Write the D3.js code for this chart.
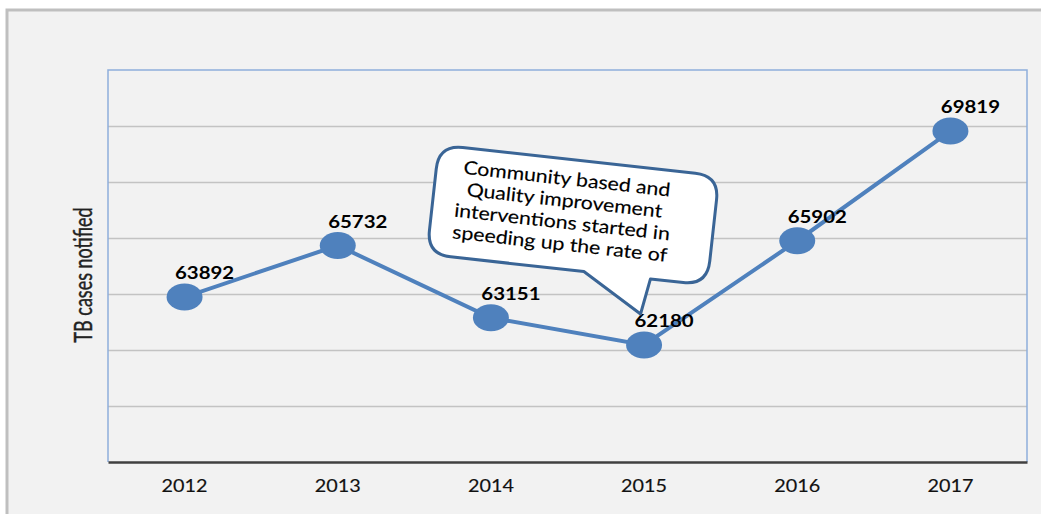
<!DOCTYPE html>
<html>
<head>
<meta charset="utf-8">
<script src="https://cdn.jsdelivr.net/npm/d3@7"></script>
<style>
  html, body { margin: 0; padding: 0; background: #ffffff; }
  svg { display: block; }
</style>
</head>
<body>
<svg id="chart" width="1041" height="514"></svg>
<script>
// Notified TB cases per year
const years = ["2012", "2013", "2014", "2015", "2016", "2017"];
const cases = [63892, 65732, 63151, 62180, 65902, 69819];
const yDomain = [58000, 72000];
const gridStep = 2000;
const axisTitle = "TB cases notified";
const calloutLines = [
  "Community based and",
  "Quality improvement",
  "interventions started in",
  "speeding up the rate of"
];

const W = 1041, H = 514;
const plot = { left: 108, top: 70, right: 1027, bottom: 462 };
const stretch = 1.2; // wide glyphs, as in the slide export
const font = "Lato, 'Open Sans', sans-serif";

const svg = d3.select("#chart");

// slide background with grey frame on the left and top
svg.append("rect").attr("x", 7).attr("y", 9).attr("width", W - 7).attr("height", H - 9)
  .attr("fill", "#f2f2f2");
svg.append("path")
  .attr("d", `M7,${H} L7,10 L${W},10`)
  .attr("fill", "none").attr("stroke", "#bfbfbf").attr("stroke-width", 3);

const x = d3.scaleBand().domain(years).range([plot.left, plot.right]).padding(0);
const y = d3.scaleLinear().domain(yDomain).range([plot.bottom, plot.top]);

// horizontal gridlines
const gridVals = d3.range(yDomain[0] + gridStep, yDomain[1], gridStep);
svg.append("g")
  .attr("transform", `translate(${plot.left},0)`)
  .call(d3.axisLeft(y).tickValues(gridVals).tickSize(-(plot.right - plot.left)).tickFormat(""))
  .call(g => g.select(".domain").remove())
  .call(g => g.selectAll(".tick line").attr("stroke", "#c3c3c3").attr("stroke-width", 1.5));

// plot area border: light blue left/top/right
svg.append("path")
  .attr("d", `M${plot.left},${plot.bottom} L${plot.left},${plot.top} L${plot.right},${plot.top} L${plot.right},${plot.bottom}`)
  .attr("fill", "none").attr("stroke", "#8eaedb").attr("stroke-width", 1.5);

// category axis
const xAxis = svg.append("g")
  .attr("transform", `translate(0,${plot.bottom})`)
  .call(d3.axisBottom(x).tickSize(0).tickPadding(0));
xAxis.select(".domain").attr("stroke", "#404040").attr("stroke-width", 2.5);
xAxis.selectAll(".tick text").remove();
xAxis.selectAll(".tick").append("text")
  .attr("transform", `translate(0,30) scale(${stretch},1)`)
  .attr("text-anchor", "middle")
  .attr("fill", "#111")
  .attr("stroke", "#111").attr("stroke-width", 0.15)
  .style("font-family", font)
  .style("font-size", "16.5px")
  .text(d => d);

// y axis title
svg.append("text")
  .attr("transform", `translate(92,275) scale(1.4,1) rotate(-90)`)
  .attr("text-anchor", "middle")
  .attr("fill", "#222")
  .attr("stroke", "#222").attr("stroke-width", 0.3)
  .style("font-family", font)
  .style("font-size", "18px")
  .text(axisTitle);

const data = years.map((yr, i) => ({ year: yr, value: cases[i] }));
const cx = d => x(d.year) + x.bandwidth() / 2;

// series line
svg.append("path")
  .datum(data)
  .attr("fill", "none")
  .attr("stroke", "#4f81bd")
  .attr("stroke-width", 4)
  .attr("d", d3.line().x(cx).y(d => y(d.value)));

// markers
svg.append("g").selectAll("ellipse").data(data).join("ellipse")
  .attr("cx", cx).attr("cy", d => y(d.value))
  .attr("rx", 18).attr("ry", 13.5)
  .attr("fill", "#4f81bd");

// value labels
svg.append("g").selectAll("text").data(data).join("text")
  .attr("transform", d => `translate(${cx(d) + 20},${y(d.value) - 18}) scale(${stretch},1)`)
  .attr("text-anchor", "middle")
  .attr("fill", "#000")
  .style("font-family", font)
  .style("font-weight", "bold")
  .style("font-size", "17px")
  .text(d => d.value);

// speech-bubble callout pointing at 2015
const bw = 282, bh = 110, r = 24;
const hw = bw / 2, hh = bh / 2;
const ptrL = 17, ptrR = 84, tipX = 78, tipY = hh + 36;
const bubble = d3.path();
bubble.moveTo(-hw + r, -hh);
bubble.lineTo(hw - r, -hh);
bubble.quadraticCurveTo(hw, -hh, hw, -hh + r);
bubble.lineTo(hw, hh - r);
bubble.quadraticCurveTo(hw, hh, hw - r, hh);
bubble.lineTo(ptrR, hh);
bubble.lineTo(tipX, tipY);
bubble.lineTo(ptrL, hh);
bubble.lineTo(-hw + r, hh);
bubble.quadraticCurveTo(-hw, hh, -hw, hh - r);
bubble.lineTo(-hw, -hh + r);
bubble.quadraticCurveTo(-hw, -hh, -hw + r, -hh);
bubble.closePath();

const callout = svg.append("g").attr("transform", "translate(573,215) rotate(6.3)");
callout.append("path")
  .attr("d", bubble.toString())
  .attr("fill", "#ffffff")
  .attr("stroke", "#3a6596")
  .attr("stroke-width", 3)
  .attr("stroke-linejoin", "round");
callout.append("g").selectAll("text").data(calloutLines).join("text")
  .attr("transform", (d, i) => `translate(-10,${-29 + i * 21.8}) scale(1.15,1)`)
  .attr("text-anchor", "middle")
  .attr("fill", "#000")
  .attr("stroke", "#000").attr("stroke-width", 0.15)
  .style("font-family", font)
  .style("font-size", "18.5px")
  .text(d => d);
</script>
</body>
</html>
